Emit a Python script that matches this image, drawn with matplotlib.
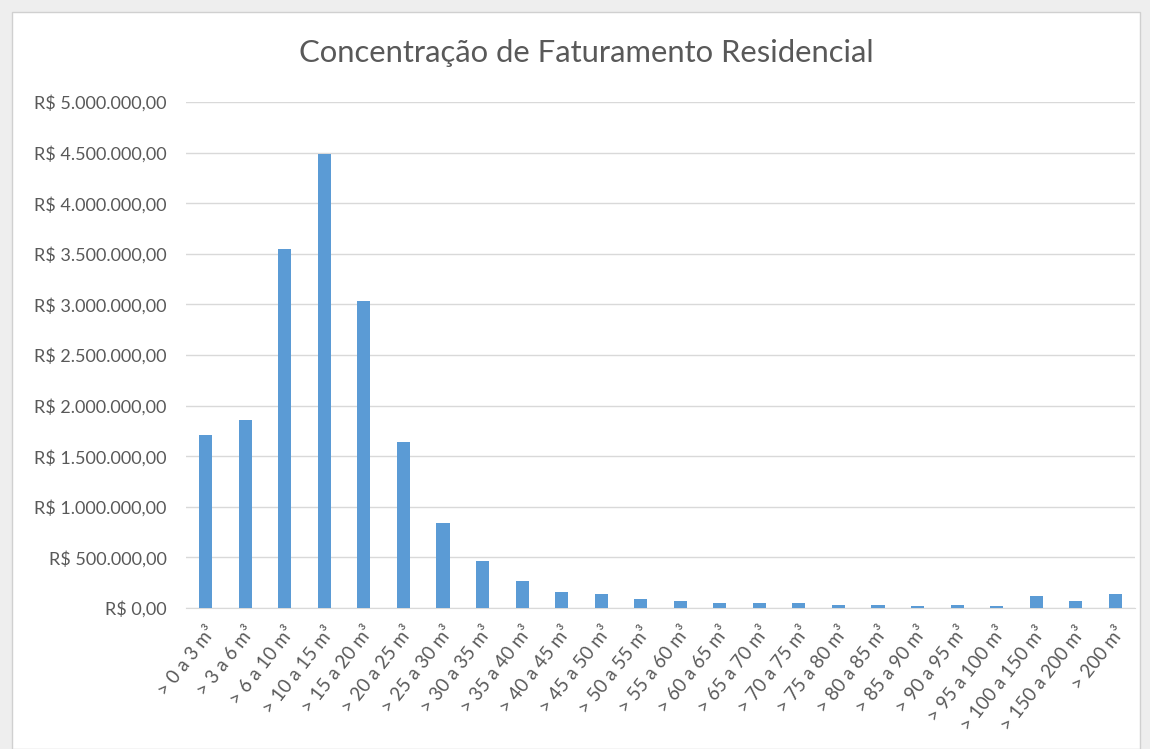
import matplotlib
matplotlib.use("Agg")
import matplotlib.pyplot as plt
from matplotlib.ticker import FuncFormatter, MultipleLocator
from matplotlib.patches import Rectangle

# -------------------------------
# DATA
# -------------------------------
faixas = ["> 0 a 3 m³", "> 3 a 6 m³", "> 6 a 10 m³", "> 10 a 15 m³", "> 15 a 20 m³",
          "> 20 a 25 m³", "> 25 a 30 m³", "> 30 a 35 m³", "> 35 a 40 m³", "> 40 a 45 m³",
          "> 45 a 50 m³", "> 50 a 55 m³", "> 55 a 60 m³", "> 60 a 65 m³", "> 65 a 70 m³",
          "> 70 a 75 m³", "> 75 a 80 m³", "> 80 a 85 m³", "> 85 a 90 m³", "> 90 a 95 m³",
          "> 95 a 100 m³", "> 100 a 150 m³", "> 150 a 200 m³", "> 200 m³"]

faturamento = [1710000, 1860000, 3550000, 4490000, 3030000,
               1640000, 840000, 460000, 265000, 160000,
               140000, 86000, 69000, 52000, 52000,
               52000, 33000, 33000, 17000, 33000,
               17000, 120000, 69000, 140000]

title = "Concentração de Faturamento Residencial"

# -------------------------------
# STYLE
# -------------------------------
text_color = "#595959"
bar_color = "#5b9bd5"
grid_color = "#d9d9d9"
plt.rcParams["font.family"] = ["Lato", "DejaVu Sans"]


def brl(v, pos):
    s = f"{v:,.2f}"
    s = s.replace(",", "X").replace(".", ",").replace("X", ".")
    return "R$ " + s


# -------------------------------
# PLOT
# -------------------------------
fig = plt.figure(figsize=(11.5, 7.49), dpi=100)
fig.patch.set_facecolor("#eeeeee")
card = Rectangle((12 / 1150, 0), 1128 / 1150, 1 - 12 / 749,
                 transform=fig.transFigure, facecolor="white",
                 edgecolor="#d0d0d0", lw=1, zorder=-5)
fig.add_artist(card)

ax = fig.add_axes([186 / 1150, 1 - 608 / 749, 949 / 1150, 506 / 749])
ax.set_facecolor("white")

x = range(len(faixas))
ax.bar(x, faturamento, width=0.33, color=bar_color, zorder=3)

ax.set_xlim(-0.5, len(faixas) - 0.5)
ax.set_ylim(0, 5000000)
ax.yaxis.set_major_locator(MultipleLocator(500000))
ax.yaxis.set_major_formatter(FuncFormatter(brl))
ax.grid(axis="y", color=grid_color, lw=1, zorder=0)

ax.set_xticks(list(x))
ax.set_xticklabels(faixas, rotation=52, ha="right", rotation_mode="anchor")

for s in ["top", "right", "left"]:
    ax.spines[s].set_visible(False)
ax.spines["bottom"].set_color(grid_color)
ax.tick_params(axis="both", length=0, colors=text_color, labelsize=13)
ax.tick_params(axis="x", labelsize=13.5, pad=11)
ax.tick_params(axis="y", pad=14)

fig.text(586 / 1150, 1 - 53 / 749, title, ha="center", va="center",
         fontsize=22.3, color=text_color)

fig.savefig("out.png", dpi=100, facecolor=fig.get_facecolor())
